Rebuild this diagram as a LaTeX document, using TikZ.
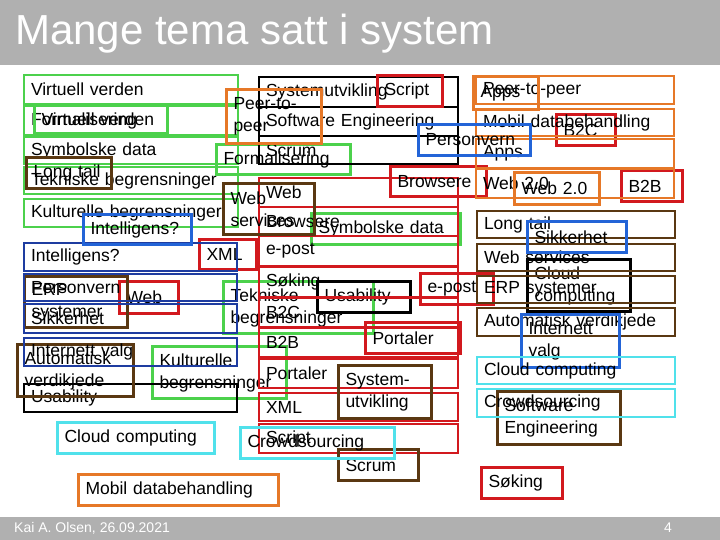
\documentclass[tikz,border=0pt]{standalone}
\usepackage{fontspec}
\setmainfont{Liberation Sans}
\usepackage{tikz}
\usetikzlibrary{positioning}
\definecolor{temaGreen}{RGB}{76,209,76}
\definecolor{temaOrange}{RGB}{230,120,40}
\definecolor{temaRed}{RGB}{210,25,30}
\definecolor{temaBrown}{RGB}{90,56,18}
\definecolor{temaBlue}{RGB}{35,100,215}
\definecolor{temaNavy}{RGB}{30,60,160}
\definecolor{temaCyan}{RGB}{80,225,235}
\definecolor{temaGray}{RGB}{176,176,176}
\newcommand{\temafont}{\fontsize{17.5}{22}\selectfont}

\begin{document}
\begin{tikzpicture}[x=1pt,y=-1pt,
  tema/.style={draw=#1, anchor=north west, inner xsep=7pt, inner ysep=0pt, align=left, font=\temafont, text=black}]
\useasboundingbox (0,0) rectangle (720,540);
\fill[temaGray] (0,0) rectangle (720,65);
\fill[temaGray] (0,517) rectangle (720,540);
\node[anchor=base west, inner sep=0pt, text=white, font=\fontsize{42}{50}\selectfont] (title) at (15,45) {Mange tema satt i system};
\node[anchor=west, inner sep=0pt, text=white, font=\fontsize{14}{16}\selectfont] (author) at (14,528) {Kai A. Olsen, 26.09.2021};
\node[anchor=west, inner sep=0pt, text=white, font=\fontsize{14}{16}\selectfont] (page) at (664,528) {4};
\foreach \nm/\xa/\ya/\xb/\yb/\lw/\txt in {
  gA/23/74/237/103/2/Virtuell verden,
  gB/23/105/237/134/2/Formalisering,
  gC/23/136/237/163/2/Symbolske data,
  gD/23/166/237/193/2/Tekniske begrensninger,
  gE/23/198/237/226/2/Kulturelle begrensninger,
  gVirt/33/104/166/132/3/Virtuell verden,
  gForm/215/143/349/173/3/Formalisering,
  gSymb/310/212/459/243/3/Symbolske data,
  gTek/222/280/372/332/3/{Tekniske\\begrensninger},
  gKult/151/345/285/397/3/{Kulturelle\\begrensninger}}
{
  \pgfmathsetmacro{\bw}{\xb-\xa-14}
  \pgfmathsetmacro{\bh}{\yb-\ya}
  \node[tema=temaGreen, line width=\lw pt, text width=\bw pt, minimum height=\bh pt] (\nm) at (\xa,\ya) {\txt};
}
\foreach \nm/\xa/\ya/\xb/\yb/\lw/\txt in {
  kA/258/76/457/106/2/Systemutvikling,
  kB/258/106/457/135/2/Software Engineering,
  kC/258/135/457/163/2/Scrum,
  kUse/316/280/409/311/3/Usability,
  kUsab/23/383/236/411/2/Usability,
  kCloud/526/258/629/310/3/{Cloud\\computing}}
{
  \pgfmathsetmacro{\bw}{\xb-\xa-14}
  \pgfmathsetmacro{\bh}{\yb-\ya}
  \node[tema=black, line width=\lw pt, text width=\bw pt, minimum height=\bh pt] (\nm) at (\xa,\ya) {\txt};
}
\foreach \nm/\xa/\ya/\xb/\yb/\lw/\txt in {
  rA/258/177/457/206/2/Web,
  rB/258/206/457/235/2/Browsere,
  rC/258/235/457/265/2/e-post,
  rD/258/266/457/296/2/Søking,
  rE/258/297/457/326/2/B2C,
  rF/258/327/457/356/2/B2B,
  rG/258/358/457/387/2/Portaler,
  rH/258/392/457/420/2/XML,
  rI/258/423/457/452/2/Script,
  rScript/376/74/441/105/3/Script,
  rBrow/389/165/485/195/3/Browsere,
  rXML/198/238/255/268/3/XML,
  rWeb/118/280/177/312/3/Web,
  rPost/419/272/492/303/3/e-post,
  rPort/364/321/459/352/3/Portaler,
  rB2C/555/113/614/144/3/B2C,
  rB2B/620/169/681/200/3/B2B,
  rSok/480/466/561/497/3/Søking}
{
  \pgfmathsetmacro{\bw}{\xb-\xa-14}
  \pgfmathsetmacro{\bh}{\yb-\ya}
  \node[tema=temaRed, line width=\lw pt, text width=\bw pt, minimum height=\bh pt] (\nm) at (\xa,\ya) {\txt};
}
\foreach \nm/\xa/\ya/\xb/\yb/\lw/\txt in {
  oA/475/75/673/103/2/Peer-to-peer,
  oB/475/108/673/135/2/Mobil databehandling,
  oC/475/138/673/167/2/Apps,
  oD/475/168/673/197/2/Web 2.0,
  oApps/472/75/537/108/3/Apps,
  oPeer/225/88/320/142/3/{Peer-to-\\peer},
  oWeb/513/171/598/203/3/Web 2.0,
  oMob/77/473/277/504/3/Mobil databehandling}
{
  \pgfmathsetmacro{\bw}{\xb-\xa-14}
  \pgfmathsetmacro{\bh}{\yb-\ya}
  \node[tema=temaOrange, line width=\lw pt, text width=\bw pt, minimum height=\bh pt] (\nm) at (\xa,\ya) {\txt};
}
\foreach \nm/\xa/\ya/\xb/\yb/\lw/\txt in {
  bA/476/210/674/237/2/Long tail,
  bB/476/243/674/270/2/Web services,
  bC/476/275/674/302/2/ERP systemer,
  bD/476/307/674/335/2/Automatisk verdikjede,
  bLong/25/156/110/187/3/Long tail,
  bWebs/222/182/313/233/3/{Web\\services},
  bERP/23/275/126/326/3/{ERP\\systemer},
  bAuto/16/343/132/395/3/{Automatisk\\verdikjede},
  bSys/337/364/430/417/3/{System-\\utvikling},
  bScrum/337/448/417/479/3/Scrum,
  bSoft/496/390/619/443/3/{Software\\Engineering}}
{
  \pgfmathsetmacro{\bw}{\xb-\xa-14}
  \pgfmathsetmacro{\bh}{\yb-\ya}
  \node[tema=temaBrown, line width=\lw pt, text width=\bw pt, minimum height=\bh pt] (\nm) at (\xa,\ya) {\txt};
}
\foreach \nm/\xa/\ya/\xb/\yb/\lw/\txt in {
  nA/23/242/236/270/2/Intelligens?,
  nB/23/273/236/300/2/Personvern,
  nC/23/303/236/332/2/Sikkerhet,
  nD/23/337/236/365/2/Internett valg}
{
  \pgfmathsetmacro{\bw}{\xb-\xa-14}
  \pgfmathsetmacro{\bh}{\yb-\ya}
  \node[tema=temaNavy, line width=\lw pt, text width=\bw pt, minimum height=\bh pt] (\nm) at (\xa,\ya) {\txt};
}
\foreach \nm/\xa/\ya/\xb/\yb/\lw/\txt in {
  uIntel/82/213/190/243/3/Intelligens?,
  uPers/417/123/529/154/3/Personvern,
  uSikk/526/220/625/251/3/Sikkerhet,
  uInt/520/313/618/366/3/{Internett\\valg}}
{
  \pgfmathsetmacro{\bw}{\xb-\xa-14}
  \pgfmathsetmacro{\bh}{\yb-\ya}
  \node[tema=temaBlue, line width=\lw pt, text width=\bw pt, minimum height=\bh pt] (\nm) at (\xa,\ya) {\txt};
}
\foreach \nm/\xa/\ya/\xb/\yb/\lw/\txt in {
  cA/476/356/674/383/2/Cloud computing,
  cB/476/388/674/416/2/Crowdsourcing,
  cCloud/56/421/213/452/3/Cloud computing,
  cCrowd/239/426/393/457/3/Crowdsourcing}
{
  \pgfmathsetmacro{\bw}{\xb-\xa-14}
  \pgfmathsetmacro{\bh}{\yb-\ya}
  \node[tema=temaCyan, line width=\lw pt, text width=\bw pt, minimum height=\bh pt] (\nm) at (\xa,\ya) {\txt};
}
\end{tikzpicture}
\end{document}
